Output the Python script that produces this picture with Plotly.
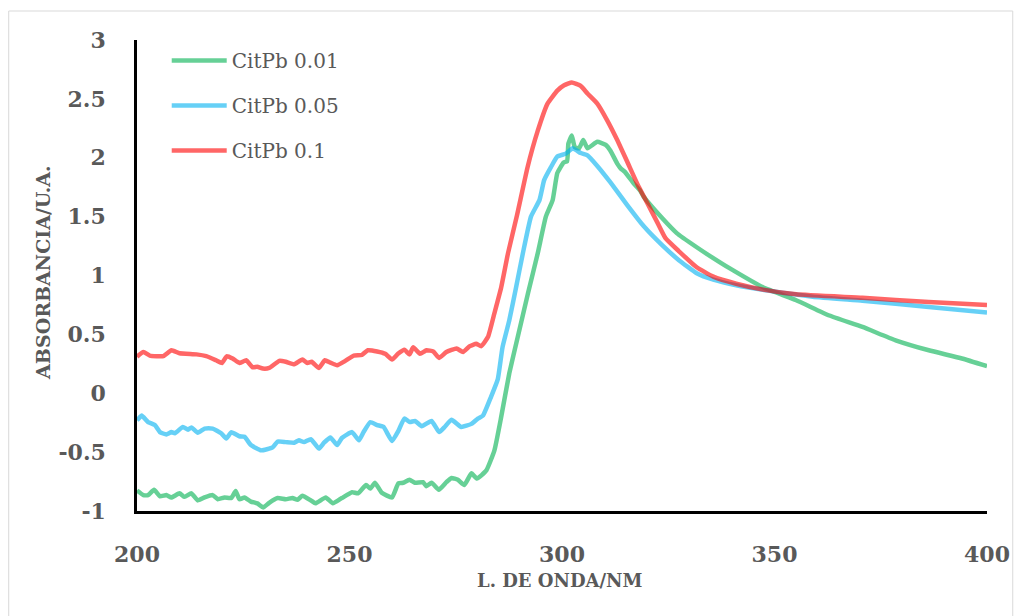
import plotly.graph_objects as go

# ---- data ----
wl_green = [200, 201.5, 202.6, 204, 205.4, 206.9, 208.1, 210, 211.2, 212.8, 214.3, 215.9, 217.8, 219, 220.6,
            222.2, 223.2, 224.1, 225.3, 226.8, 228.3, 229.7, 231.1, 233.1, 235, 236.6, 237.8, 238.9, 240.9, 242,
            244.4, 246.1, 248.2, 250.6, 252, 253.9, 254.9, 256, 257.6, 260, 261.5, 262.6, 264.1, 265.4, 267.3,
            268.1, 269.3, 271, 272.8, 274, 275.5, 277, 278.7, 280, 282.2, 284.1, 285.7, 287.6, 289.6, 292,
            294.3, 296.2, 297.8, 298.9, 300.4, 301.2, 301.5, 302.3, 303, 304, 305, 306, 308.3, 310.3, 311.4,
            313, 313.8, 314.8, 316.9, 318.4, 319.2, 323.5, 327, 331.7, 335.5, 339.5, 347.3, 355.1, 362.9, 370.7,
            378.5, 386.3, 394.1, 400]
abs_green = [-0.825, -0.865, -0.865, -0.82, -0.875, -0.865, -0.885, -0.85, -0.88, -0.85, -0.91, -0.885, -0.865, -0.90, -0.885,
             -0.89, -0.83, -0.90, -0.885, -0.92, -0.935, -0.97, -0.93, -0.89, -0.90, -0.89, -0.905, -0.87, -0.91, -0.935,
             -0.885, -0.935, -0.89, -0.84, -0.85, -0.78, -0.81, -0.76, -0.845, -0.885, -0.765, -0.76, -0.735, -0.76, -0.755,
             -0.79, -0.76, -0.82, -0.755, -0.72, -0.735, -0.78, -0.68, -0.725, -0.655, -0.485, -0.20, 0.17, 0.48, 0.85,
             1.19, 1.50, 1.64, 1.87, 1.96, 1.97, 2.12, 2.19, 2.09, 2.08, 2.15, 2.08, 2.135, 2.11, 2.06,
             1.95, 1.91, 1.88, 1.78, 1.72, 1.67, 1.49, 1.36, 1.24, 1.15, 1.06, 0.90, 0.79, 0.66, 0.563,
             0.45, 0.365, 0.295, 0.23]

wl_blue = [200, 201.1, 202.6, 204.2, 205.4, 206.9, 208.1, 208.9, 210.8, 212, 212.8, 214.3, 215.9, 217.8, 219.8,
           221, 222.2, 224.1, 225.3, 226.8, 229.2, 231.9, 233.1, 235, 237, 238.1, 239.3, 240.9, 242.8, 244,
           245.5, 247.1, 248.2, 250.6, 252.2, 253.3, 254.9, 256.5, 258, 260, 261.5, 262.9, 264.2, 265.4, 267,
           269.3, 271.1, 272.3, 274, 276.3, 278.7, 280.2, 281.4, 283.3, 284.9, 286, 287.6, 289.2, 290.8, 292.7,
           294.7, 295.8, 297.4, 298.9, 300.9, 302.5, 304.4, 306, 308.3, 311.4, 315.3, 319.2, 323.5, 327.5, 331.7,
           335.6, 341, 348.8, 359, 370.7, 386.3, 400]
abs_blue = [-0.23, -0.19, -0.245, -0.27, -0.33, -0.35, -0.33, -0.34, -0.286, -0.31, -0.29, -0.335, -0.30, -0.30, -0.34,
            -0.385, -0.33, -0.365, -0.37, -0.44, -0.485, -0.46, -0.41, -0.415, -0.42, -0.40, -0.415, -0.39, -0.47, -0.42,
            -0.375, -0.44, -0.38, -0.33, -0.40, -0.33, -0.245, -0.27, -0.285, -0.405, -0.32, -0.215, -0.245, -0.235, -0.28,
            -0.235, -0.33, -0.29, -0.225, -0.286, -0.26, -0.215, -0.19, -0.03, 0.12, 0.39, 0.62, 0.90, 1.19, 1.50,
            1.64, 1.81, 1.92, 2.01, 2.035, 2.08, 2.04, 2.02, 1.93, 1.79, 1.60, 1.42, 1.26, 1.13, 1.02,
            0.965, 0.917, 0.87, 0.82, 0.785, 0.733, 0.685]

wl_red = [200, 201.5, 203, 206.2, 208.1, 210, 214, 216.3, 218.6, 220, 221.1, 222.5, 224.1, 225.7, 227.2,
          228.3, 229.6, 231.1, 233.5, 235, 237, 238.9, 240.1, 241.1, 242.8, 244.2, 245.5, 247.1, 249, 251,
          252.9, 254.3, 256.5, 258.4, 260, 261.4, 262.9, 264.1, 265, 266.6, 268.1, 269.7, 271.1, 272.8, 275.2,
          276.7, 278.3, 279.8, 281, 282.6, 284.1, 285.7, 287.3, 289.4, 291.9, 294.3, 296.6, 298.9, 300.5, 302.3,
          304.4, 306, 308.3, 310.6, 313, 315.3, 317.7, 320, 322.3, 324.3, 327.4, 331.7, 335.6, 341, 347.3,
          355.1, 370.7, 386.3, 400]
abs_red = [0.31, 0.35, 0.32, 0.315, 0.365, 0.34, 0.33, 0.315, 0.28, 0.257, 0.314, 0.295, 0.257, 0.28, 0.22,
           0.225, 0.21, 0.215, 0.275, 0.267, 0.246, 0.286, 0.257, 0.267, 0.215, 0.28, 0.26, 0.238, 0.275, 0.32,
           0.325, 0.365, 0.355, 0.335, 0.286, 0.335, 0.37, 0.33, 0.39, 0.335, 0.365, 0.355, 0.30, 0.35, 0.38,
           0.35, 0.40, 0.42, 0.40, 0.48, 0.68, 0.90, 1.19, 1.51, 1.92, 2.23, 2.46, 2.57, 2.615, 2.64,
           2.61, 2.545, 2.46, 2.32, 2.15, 1.97, 1.78, 1.62, 1.46, 1.32, 1.21, 1.07, 0.99, 0.93, 0.88,
           0.84, 0.81, 0.775, 0.75]

series_names = ["CitPb 0.01", "CitPb 0.05", "CitPb 0.1"]
x_tickvals = [200, 250, 300, 350, 400]
x_ticktext = ["200", "250", "300", "350", "400"]
y_tickvals = [-1, -0.5, 0, 0.5, 1, 1.5, 2, 2.5, 3]
y_ticktext = ["-1", "-0.5", "0", "0.5", "1", "1.5", "2", "2.5", "3"]
x_title = "L. DE ONDA/NM"
y_title = "ABSORBANCIA/U.A."

assert len(wl_green) == len(abs_green), (len(wl_green), len(abs_green))
assert len(wl_blue) == len(abs_blue), (len(wl_blue), len(abs_blue))
assert len(wl_red) == len(abs_red), (len(wl_red), len(abs_red))

colors = ["rgba(0,176,80,0.6)", "rgba(0,176,240,0.6)", "rgba(255,0,0,0.6)"]
TXT = "#595959"
SERIF = "DejaVu Serif"

fig = go.Figure()
for i, (xs, ys) in enumerate([(wl_green, abs_green), (wl_blue, abs_blue), (wl_red, abs_red)]):
    fig.add_trace(go.Scatter(x=xs, y=ys, mode="lines", name=series_names[i],
                             legendgroup=f"g{i}",
                             line=dict(color=colors[i], width=4.5, shape="spline", smoothing=0.4)))

L, R, T, B = 137, 27, 40, 105
W, H = 1022, 616
pw, ph = W - L - R, H - T - B

fig.update_layout(
    width=W, height=H,
    margin=dict(l=L, r=R, t=T, b=B),
    plot_bgcolor="white", paper_bgcolor="white",
    showlegend=True,
    legend=dict(x=(167 - L) / pw, y=1 - (1) / ph, xanchor="left", yanchor="top",
                font=dict(family=SERIF, size=20, color=TXT),
                itemwidth=55,
                tracegroupgap=16, bgcolor="rgba(0,0,0,0)"),
    xaxis=dict(range=[200, 400], tickvals=x_tickvals, ticktext=x_ticktext,
               showgrid=False, zeroline=False, showline=True, linecolor="black", linewidth=2.5,
               ticks="", ticklabelstandoff=22,
               tickfont=dict(family=SERIF, size=22, color=TXT, weight="bold")),
    yaxis=dict(range=[-1, 3], tickvals=y_tickvals, ticktext=y_ticktext,
               showgrid=False, zeroline=False, showline=True, linecolor="black", linewidth=2.5,
               ticks="", ticklabelstandoff=24,
               tickfont=dict(family=SERIF, size=22, color=TXT, weight="bold")),
    annotations=[
        dict(text=x_title, xref="paper", yref="paper", x=(564 - L) / pw, y=(511 - 580) / ph,
             xanchor="center", yanchor="middle", showarrow=False,
             font=dict(family=SERIF, size=18, color=TXT, weight="bold")),
        dict(text=y_title, xref="paper", yref="paper", x=(42 - L) / pw, y=(511 - 272) / ph,
             xanchor="center", yanchor="middle", showarrow=False, textangle=-90,
             font=dict(family=SERIF, size=19, color=TXT, weight="bold")),
    ],
    shapes=[dict(type="rect", xref="paper", yref="paper", layer="below",
                 x0=(7.5 - L) / pw, x1=(1021 - L) / pw, y0=(511 - 630) / ph, y1=(511 - 11) / ph,
                 line=dict(color="#D9D9D9", width=1), fillcolor="rgba(0,0,0,0)")],
)

fig.write_html("out.html")
